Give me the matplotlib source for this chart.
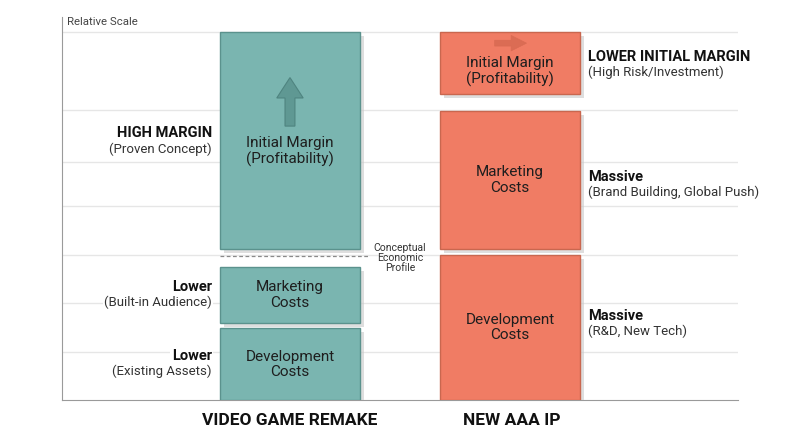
import matplotlib.pyplot as plt
import matplotlib.patheffects as pe
from matplotlib.patches import FancyArrow

plt.rcParams['font.family'] = ['Roboto', 'DejaVu Sans']

# bars: 0 = remake, 1 = new AAA IP
categories = ['VIDEO GAME REMAKE', 'NEW AAA IP']
segment_names = ['Development\nCosts', 'Marketing\nCosts', 'Initial Margin\n(Profitability)']

remake_bottom = [0.0, 1.59, 3.11]
remake_top = [1.48, 2.74, 7.59]
newip_bottom = [0.0, 3.11, 6.31]
newip_top = [2.99, 5.96, 7.59]

grid_levels = [1, 2, 3, 4, 4.91, 5.98, 7.59]

remake_notes = [('Lower', '(Existing Assets)'), ('Lower', '(Built-in Audience)'),
                ('HIGH MARGIN', '(Proven Concept)')]
remake_note_y = [0.75, 2.18, 5.34]
newip_notes = [('Massive', '(R&D, New Tech)'), ('Massive', '(Brand Building, Global Push)'),
               ('LOWER INITIAL MARGIN', '(High Risk/Investment)')]
newip_note_y = [1.57, 4.44, 6.92]

teal, teal_edge = '#7ab5b0', '#5b928d'
coral, coral_edge = '#f07c64', '#c9674f'

fig = plt.figure(figsize=(8, 4.47), dpi=100)
ax = fig.add_axes([0.0775, 0.105, 0.845, 0.857])
ax.set_xlim(-1.036, 2.036)
ax.set_ylim(0, 7.9)

for g in grid_levels:
    ax.axhline(g, color='#e6e6e6', lw=1, zorder=0)

shadow = [pe.SimplePatchShadow(offset=(3, -3), shadow_rgbFace='#c8c8c8', alpha=0.6), pe.Normal()]
width = 0.636

for i, (bots, tops, fc, ec) in enumerate([(remake_bottom, remake_top, teal, teal_edge),
                                          (newip_bottom, newip_top, coral, coral_edge)]):
    for j, (b, t) in enumerate(zip(bots, tops)):
        bar = ax.bar(i, t - b, bottom=b, width=width, color=fc, edgecolor=ec, lw=1, zorder=3)
        for p in bar:
            p.set_path_effects(shadow)
        yc = (b + t) / 2
        if j == 2:
            yc = b + (t - b) * (0.45 if i == 0 else 0.37)
        ax.text(i, yc, segment_names[j], ha='center', va='center', fontsize=11,
                color='#1e1e1e', linespacing=1.12, zorder=5)

# arrows inside margin boxes
ax.add_patch(FancyArrow(0, 5.65, 0, 1.0, width=0.045, head_width=0.12, head_length=0.42,
                        length_includes_head=True, fc='#5f9893', ec='#4f8480', lw=0.8, zorder=4))
ax.add_patch(FancyArrow(0.93, 7.36, 0.145, 0, width=0.12, head_width=0.32, head_length=0.07,
                        length_includes_head=True, fc='#d86a52', ec='#d86a52', lw=0.5,
                        alpha=0.85, zorder=4))

# dashed separator
ax.plot([-0.318, 0.364], [2.97, 2.97], ls=(0, (3, 2)), color='#8a8a8a', lw=0.9, zorder=4)
ax.text(0.5, 2.93, 'Conceptual\nEconomic\nProfile', ha='center', va='center', fontsize=7.5,
        color='#333333', linespacing=1.0, zorder=5)

box = dict(facecolor='white', edgecolor='none', pad=1)
for (title, sub), y in zip(remake_notes, remake_note_y):
    ax.text(-0.355, y + 0.16, title, ha='right', va='center', fontsize=10.5, fontweight='bold',
            color='#111111', bbox=box, zorder=2)
    ax.text(-0.355, y - 0.16, sub, ha='right', va='center', fontsize=9.5,
            color='#333333', bbox=box, zorder=2)
for (title, sub), y in zip(newip_notes, newip_note_y):
    ax.text(1.355, y + 0.16, title, ha='left', va='center', fontsize=10.5, fontweight='bold',
            color='#111111', bbox=box, zorder=2)
    ax.text(1.355, y - 0.16, sub, ha='left', va='center', fontsize=9.5,
            color='#333333', bbox=box, zorder=2)

ax.set_xticks([0, 1.01])
ax.set_xticklabels(categories, fontsize=12.5, fontweight='bold', color='#111111')
ax.tick_params(axis='x', length=0, pad=9)
ax.set_yticks([])

ax.text(-1.013, 7.8, 'Relative Scale', ha='left', va='center', fontsize=8.2, color='#444444')

for s in ['top', 'right']:
    ax.spines[s].set_visible(False)
ax.spines['left'].set_color('#9a9a9a')
ax.spines['bottom'].set_color('#9a9a9a')

fig.savefig('out.png', dpi=100)
